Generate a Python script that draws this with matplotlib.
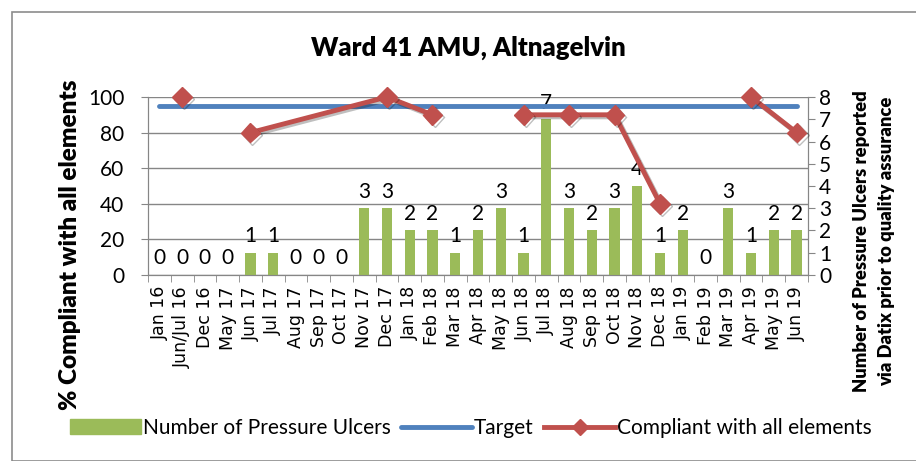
import numpy as np
import matplotlib.pyplot as plt
import matplotlib.patheffects as pe
from matplotlib.patches import Rectangle
from matplotlib.lines import Line2D

months = ['Jan 16', 'Jun/Jul 16', 'Dec 16', 'May 17', 'Jun 17', 'Jul 17', 'Aug 17', 'Sep 17',
          'Oct 17', 'Nov 17', 'Dec 17', 'Jan 18', 'Feb 18', 'Mar 18', 'Apr 18', 'May 18',
          'Jun 18', 'Jul 18', 'Aug 18', 'Sep 18', 'Oct 18', 'Nov 18', 'Dec 18', 'Jan 19',
          'Feb 19', 'Mar 19', 'Apr 19', 'May 19', 'Jun 19']
ulcers = [0, 0, 0, 0, 1, 1, 0, 0, 0, 3, 3, 2, 2, 1, 2, 3, 1, 7, 3, 2, 3, 4, 1, 2, 0, 3, 1, 2, 2]
target = [95] * len(months)
nan = np.nan
compliant = [nan, 100, nan, nan, 80, nan, nan, nan, nan, nan, 100, nan, 90, nan, nan, nan,
             90, nan, 90, nan, 90, nan, 40, nan, nan, nan, 100, nan, 80]
# runs of the compliance line that are joined up
runs = [('Jun/Jul 16', 'Jun/Jul 16'), ('Jun 17', 'Feb 18'), ('Jun 18', 'Dec 18'), ('Apr 19', 'Jun 19')]

green = '#9BBB59'
blue = '#4F81BD'
red = '#C0504D'
grid = '#868686'
font = 'Lato'

fig = plt.figure(figsize=(9.16, 4.61), dpi=100)
fig.patches.append(Rectangle((12 / 916, 0.0), 0.99, 1 - 12 / 461, transform=fig.transFigure,
                             fill=False, edgecolor='#8c8c8c', lw=1.2))

ax = fig.add_axes([148 / 916, 1 - 275 / 461, 660 / 916, 178 / 461])
ax2 = ax.twinx()
x = np.arange(len(months))

ax.set_ylim(0, 100)
ax.set_yticks(range(0, 101, 20))
ax.set_xlim(-0.5, len(months) - 0.5)
for y in range(0, 101, 20):
    ax.axhline(y, color=grid, lw=1, zorder=0)

ax2.set_ylim(0, 8)
ax2.set_yticks(range(0, 9))
bars = ax2.bar(x, ulcers, width=0.45, color=green, zorder=2)
for xi, v in zip(x, ulcers):
    ax2.text(xi, v + 0.3, str(v), ha='center', va='bottom', fontsize=15, family=font, zorder=3)

tline, = ax2.plot(x, [t / 12.5 for t in target], color=blue, lw=3.5, solid_capstyle='round',
                  zorder=4)
for a, b in runs:
    i0, i1 = months.index(a), months.index(b)
    xs = [i for i in range(i0, i1 + 1) if not np.isnan(compliant[i])]
    ys = [compliant[i] / 12.5 for i in xs]
    ax2.plot(xs, ys, color=red, lw=3.5, marker='D', markersize=10, zorder=5, clip_on=False,
             path_effects=[pe.SimpleLineShadow(offset=(1.5, -1.5), alpha=0.25), pe.Normal()])

ax.set_xticks(x)
ax.set_xticklabels(months, rotation=90, fontsize=12.5, family='DejaVu Sans')
ax.tick_params(axis='x', length=0, pad=8)
ax.set_xticks(np.arange(-0.5, len(months), 1), minor=True)
ax.tick_params(axis='x', which='minor', length=5, color=grid)
ax.tick_params(axis='y', length=5, color=grid, labelsize=15, pad=12)
ax2.tick_params(axis='y', length=5, color=grid, labelsize=15, pad=3)
for t in ax.get_yticklabels() + ax2.get_yticklabels():
    t.set_family(font)

for a in (ax, ax2):
    a.spines['top'].set_visible(False)
    for s in ('left', 'right', 'bottom'):
        a.spines[s].set_color(grid)

ax.set_ylabel('% Compliant with all elements', fontsize=17.5, fontweight='heavy', family=font)
ax.yaxis.set_label_coords(-0.102, 0.17)
ax2.set_ylabel('Number of Pressure Ulcers reported\nvia Datix prior to quality assurance',
               fontsize=13.2, fontweight='heavy', family=font, linespacing=1.55)
ax2.yaxis.set_label_coords(1.068, 0.19)

fig.text(468 / 916, 1 - 48 / 461, 'Ward 41 AMU, Altnagelvin', ha='center', va='center',
         fontsize=18.5, fontweight='heavy', family=font)

h_bar = Rectangle((0, 0), 1, 1, color=green)
h_target = Line2D([], [], color=blue, lw=3.5, solid_capstyle='round')
h_comp = Line2D([], [], color=red, lw=3.5, marker='D', markersize=8)
fig.legend(handles=[h_bar, h_target, h_comp],
           labels=['Number of Pressure Ulcers', 'Target', 'Compliant with all elements'],
           loc='center', bbox_to_anchor=(471 / 916, 1 - 428 / 461),
           ncol=3, frameon=False, prop={'family': font, 'size': 15}, handlelength=3.4,
           handletextpad=0.1, columnspacing=0.5)

fig.savefig('out.png', dpi=100)
